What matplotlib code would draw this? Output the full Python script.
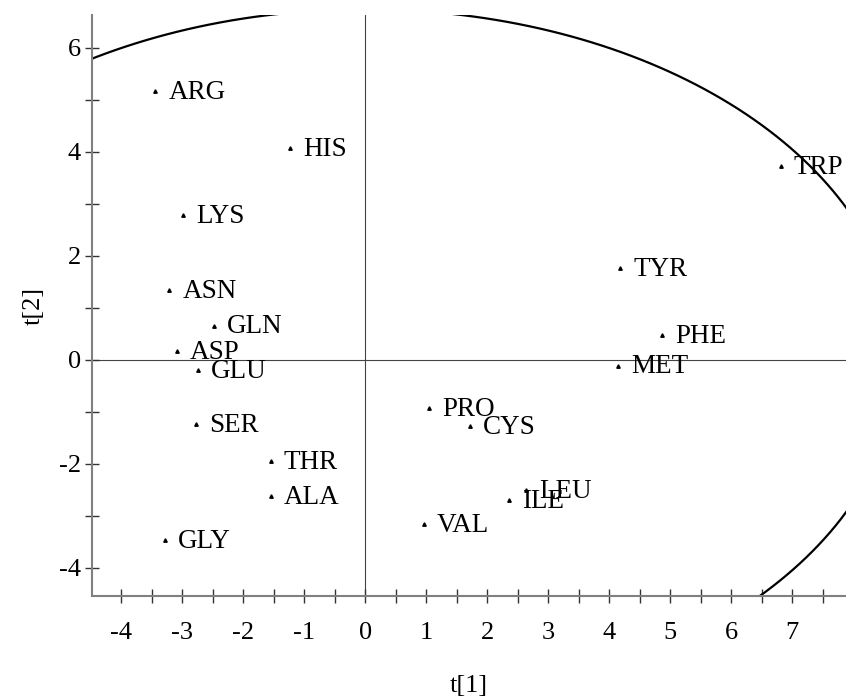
import numpy as np
import matplotlib
matplotlib.use("Agg")
import matplotlib.pyplot as plt
from matplotlib.ticker import MultipleLocator, FixedLocator

# PCA scores (t[1], t[2])
names = ["ARG", "HIS", "LYS", "ASN", "GLN", "ASP", "GLU", "SER", "THR", "ALA",
         "GLY", "PRO", "CYS", "ILE", "LEU", "VAL", "TRP", "TYR", "PHE", "MET"]
t1 = [-3.44, -1.23, -2.98, -3.21, -2.48, -3.09, -2.74, -2.78, -1.55, -1.55,
      -3.28, 1.04, 1.71, 2.36, 2.64, 0.96, 6.81, 4.18, 4.87, 4.14]
t2 = [5.17, 4.08, 2.79, 1.35, 0.66, 0.17, -0.19, -1.24, -1.94, -2.61,
      -3.46, -0.93, -1.28, -2.69, -2.50, -3.15, 3.72, 1.76, 0.48, -0.11]

# Hotelling T2 ellipse semi-axes
ell_a = 8.75
ell_b = 6.74

plt.rcParams['font.family'] = ['Liberation Serif', 'DejaVu Serif']
plt.rcParams['axes.unicode_minus'] = False

fig = plt.figure(figsize=(8.46, 6.97), dpi=100)
ax = fig.add_axes([0.1087, 0.1449, 0.8913, 0.8336])

ax.axhline(0, color='#444444', lw=0.8, zorder=1)
ax.axvline(0, color='#444444', lw=0.8, zorder=1)

theta = np.linspace(0, 2 * np.pi, 600)
ax.plot(ell_a * np.cos(theta), ell_b * np.sin(theta), color='black', lw=1.6, zorder=2)

ax.plot(t1, t2, linestyle='none', marker='^', markersize=2.5, color='black', zorder=3)
for n, x, y in zip(names, t1, t2):
    ax.annotate(n, (x, y), xytext=(9.5, -1), textcoords='offset points',
                va='center', ha='left', fontsize=19.5)

ax.set_xlim(-4.48, 7.88)
ax.set_ylim(-4.54, 6.63)

ax.xaxis.set_major_locator(FixedLocator(np.arange(-4, 8)))
ax.xaxis.set_minor_locator(MultipleLocator(0.5))
ax.yaxis.set_major_locator(FixedLocator([-4, -2, 0, 2, 4, 6]))
ax.yaxis.set_minor_locator(MultipleLocator(1))

ax.tick_params(which='both', direction='inout', length=10, width=1, color='#333333',
               labelsize=19)
ax.tick_params(axis='x', pad=14)
ax.tick_params(axis='y', pad=3)

for s in ['top', 'right']:
    ax.spines[s].set_visible(False)
for s in ['left', 'bottom']:
    ax.spines[s].set_color('#808080')
    ax.spines[s].set_linewidth(1.5)

ax.set_xlabel('t[1]', fontsize=19, labelpad=22)
ax.set_ylabel('t[2]', fontsize=19, labelpad=10)

fig.savefig('out.png', dpi=100)
